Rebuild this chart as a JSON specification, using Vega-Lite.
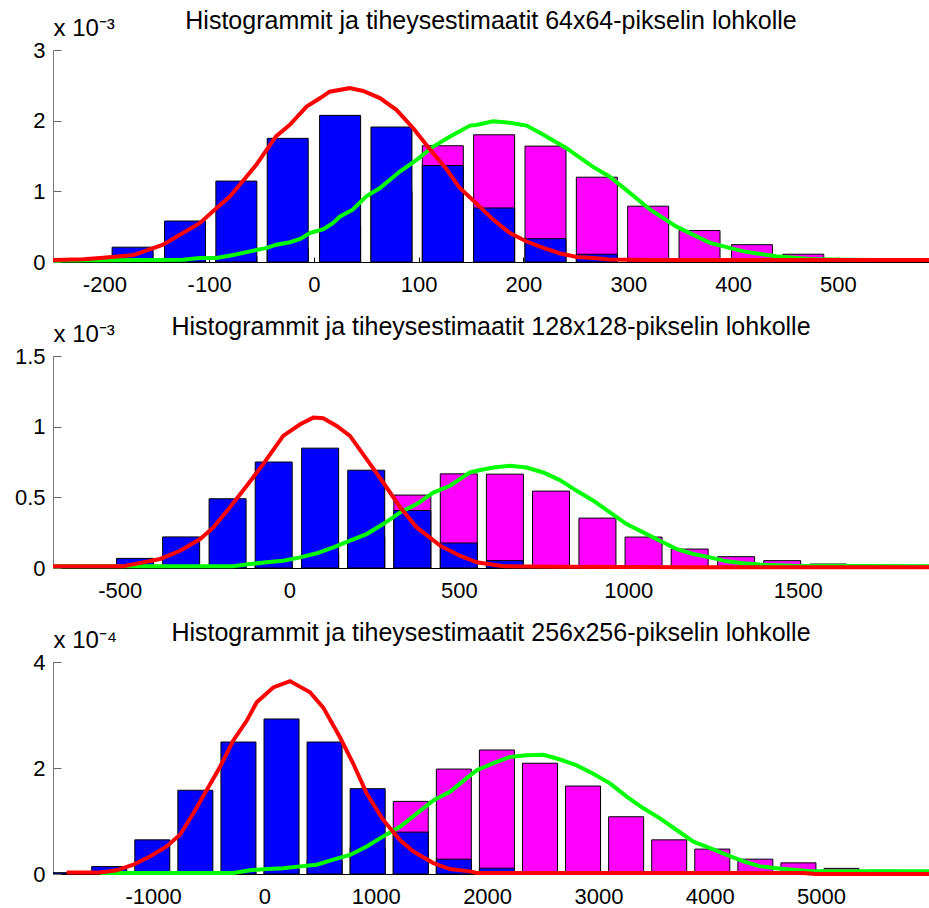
{
  "$schema": "https://vega.github.io/schema/vega-lite/v6.json",
  "background": "white",
  "autosize": {"type": "pad"},
  "padding": {"left": 14, "top": 9, "right": 0, "bottom": 0},
  "config": {
    "view": {"stroke": null},
    "font": "Liberation Sans",
    "title": {"font": "Liberation Sans", "fontSize": 25, "fontWeight": "normal", "color": "#000", "anchor": "middle", "frame": "group", "baseline": "alphabetic", "offset": -18},
    "axis": {"grid": false, "labelFont": "Liberation Sans", "labelFontSize": 22, "labelColor": "#000", "labelExpr": "toString(datum.value)", "labelOverlap": false, "labelFlush": false},
    "axisX": {"tickSize": -5, "labelPadding": 17, "domainColor": "#000", "tickColor": "#000", "domainWidth": 1, "tickWidth": 1},
    "axisY": {"tickSize": -8, "labelPadding": 16, "domainColor": "#777", "tickColor": "#666", "titleAngle": 0, "titleAlign": "left", "titleBaseline": "alphabetic", "titleX": 0, "titleY": -15, "titleFont": "Liberation Sans", "titleFontSize": 24, "titleFontWeight": "normal", "titleColor": "#000"}
  },
  "datasets": {
    "palkit64": [
      {"x": -222, "y": 0.02, "sarja": "sininen"}, {"x": -173, "y": 0.21, "sarja": "sininen"}, {"x": -123, "y": 0.58, "sarja": "sininen"}, {"x": -74, "y": 1.145, "sarja": "sininen"}, {"x": -25, "y": 1.75, "sarja": "sininen"}, {"x": 25, "y": 2.075, "sarja": "sininen"}, {"x": 74, "y": 1.91, "sarja": "sininen"}, {"x": 123, "y": 1.365, "sarja": "sininen"}, {"x": 172, "y": 0.765, "sarja": "sininen"}, {"x": 221, "y": 0.33, "sarja": "sininen"}, {"x": 270, "y": 0.11, "sarja": "sininen"}, {"x": 319, "y": 0.03, "sarja": "sininen"}, {"x": 368, "y": 0.01, "sarja": "sininen"},
      {"x": -173, "y": 0.01, "sarja": "magenta"}, {"x": -123, "y": 0.02, "sarja": "magenta"}, {"x": -74, "y": 0.08, "sarja": "magenta"}, {"x": -25, "y": 0.2, "sarja": "magenta"}, {"x": 25, "y": 0.5, "sarja": "magenta"}, {"x": 74, "y": 1.0, "sarja": "magenta"}, {"x": 123, "y": 1.645, "sarja": "magenta"}, {"x": 172, "y": 1.8, "sarja": "magenta"}, {"x": 221, "y": 1.64, "sarja": "magenta"}, {"x": 270, "y": 1.2, "sarja": "magenta"}, {"x": 319, "y": 0.79, "sarja": "magenta"}, {"x": 368, "y": 0.445, "sarja": "magenta"}, {"x": 418, "y": 0.245, "sarja": "magenta"}, {"x": 467, "y": 0.11, "sarja": "magenta"}, {"x": 516, "y": 0.02, "sarja": "magenta"}, {"x": 565, "y": 0.01, "sarja": "magenta"}
    ],
    "kayrat64": [
      {"x": -249, "y": 0.03, "sarja": "punainen"}, {"x": -220, "y": 0.04, "sarja": "punainen"}, {"x": -201, "y": 0.06, "sarja": "punainen"}, {"x": -185, "y": 0.08, "sarja": "punainen"}, {"x": -172, "y": 0.1, "sarja": "punainen"}, {"x": -160, "y": 0.16, "sarja": "punainen"}, {"x": -144, "y": 0.245, "sarja": "punainen"}, {"x": -125, "y": 0.41, "sarja": "punainen"}, {"x": -109, "y": 0.55, "sarja": "punainen"}, {"x": -96, "y": 0.72, "sarja": "punainen"}, {"x": -80, "y": 0.93, "sarja": "punainen"}, {"x": -67, "y": 1.16, "sarja": "punainen"}, {"x": -55, "y": 1.375, "sarja": "punainen"}, {"x": -45, "y": 1.59, "sarja": "punainen"}, {"x": -36, "y": 1.78, "sarja": "punainen"}, {"x": -23, "y": 1.94, "sarja": "punainen"}, {"x": -7, "y": 2.2, "sarja": "punainen"}, {"x": 6, "y": 2.32, "sarja": "punainen"}, {"x": 15, "y": 2.41, "sarja": "punainen"}, {"x": 34, "y": 2.46, "sarja": "punainen"}, {"x": 47, "y": 2.42, "sarja": "punainen"}, {"x": 63, "y": 2.32, "sarja": "punainen"}, {"x": 79, "y": 2.15, "sarja": "punainen"}, {"x": 95, "y": 1.89, "sarja": "punainen"}, {"x": 111, "y": 1.59, "sarja": "punainen"}, {"x": 127, "y": 1.305, "sarja": "punainen"}, {"x": 139, "y": 1.05, "sarja": "punainen"}, {"x": 155, "y": 0.83, "sarja": "punainen"}, {"x": 171, "y": 0.6, "sarja": "punainen"}, {"x": 187, "y": 0.41, "sarja": "punainen"}, {"x": 203, "y": 0.29, "sarja": "punainen"}, {"x": 219, "y": 0.2, "sarja": "punainen"}, {"x": 235, "y": 0.12, "sarja": "punainen"}, {"x": 251, "y": 0.07, "sarja": "punainen"}, {"x": 267, "y": 0.055, "sarja": "punainen"}, {"x": 282, "y": 0.035, "sarja": "punainen"}, {"x": 320, "y": 0.03, "sarja": "punainen"}, {"x": 400, "y": 0.03, "sarja": "punainen"}, {"x": 500, "y": 0.03, "sarja": "punainen"}, {"x": 587, "y": 0.03, "sarja": "punainen"},
      {"x": -249, "y": 0.02, "sarja": "vihreä"}, {"x": -204, "y": 0.024, "sarja": "vihreä"}, {"x": -157, "y": 0.028, "sarja": "vihreä"}, {"x": -125, "y": 0.033, "sarja": "vihreä"}, {"x": -109, "y": 0.057, "sarja": "vihreä"}, {"x": -93, "y": 0.057, "sarja": "vihreä"}, {"x": -77, "y": 0.1, "sarja": "vihreä"}, {"x": -61, "y": 0.15, "sarja": "vihreä"}, {"x": -45, "y": 0.2, "sarja": "vihreä"}, {"x": -36, "y": 0.245, "sarja": "vihreä"}, {"x": -23, "y": 0.28, "sarja": "vihreä"}, {"x": -13, "y": 0.325, "sarja": "vihreä"}, {"x": -4, "y": 0.41, "sarja": "vihreä"}, {"x": 9, "y": 0.466, "sarja": "vihreä"}, {"x": 18, "y": 0.55, "sarja": "vihreä"}, {"x": 25, "y": 0.645, "sarja": "vihreä"}, {"x": 37, "y": 0.74, "sarja": "vihreä"}, {"x": 50, "y": 0.93, "sarja": "vihreä"}, {"x": 63, "y": 1.046, "sarja": "vihreä"}, {"x": 82, "y": 1.28, "sarja": "vihreä"}, {"x": 98, "y": 1.446, "sarja": "vihreä"}, {"x": 114, "y": 1.634, "sarja": "vihreä"}, {"x": 130, "y": 1.776, "sarja": "vihreä"}, {"x": 149, "y": 1.93, "sarja": "vihreä"}, {"x": 155, "y": 1.94, "sarja": "vihreä"}, {"x": 171, "y": 1.99, "sarja": "vihreä"}, {"x": 187, "y": 1.97, "sarja": "vihreä"}, {"x": 203, "y": 1.93, "sarja": "vihreä"}, {"x": 219, "y": 1.8, "sarja": "vihreä"}, {"x": 241, "y": 1.61, "sarja": "vihreä"}, {"x": 266, "y": 1.35, "sarja": "vihreä"}, {"x": 282, "y": 1.21, "sarja": "vihreä"}, {"x": 298, "y": 1.02, "sarja": "vihreä"}, {"x": 321, "y": 0.74, "sarja": "vihreä"}, {"x": 346, "y": 0.5, "sarja": "vihreä"}, {"x": 378, "y": 0.27, "sarja": "vihreä"}, {"x": 410, "y": 0.15, "sarja": "vihreä"}, {"x": 441, "y": 0.08, "sarja": "vihreä"}, {"x": 473, "y": 0.042, "sarja": "vihreä"}, {"x": 505, "y": 0.033, "sarja": "vihreä"}, {"x": 540, "y": 0.03, "sarja": "vihreä"}, {"x": 587, "y": 0.03, "sarja": "vihreä"}
    ],
    "palkit128": [
      {"x": -455, "y": 0.068, "sarja": "sininen"}, {"x": -319, "y": 0.22, "sarja": "sininen"}, {"x": -182, "y": 0.49, "sarja": "sininen"}, {"x": -46, "y": 0.75, "sarja": "sininen"}, {"x": 91, "y": 0.848, "sarja": "sininen"}, {"x": 227, "y": 0.692, "sarja": "sininen"}, {"x": 363, "y": 0.407, "sarja": "sininen"}, {"x": 500, "y": 0.177, "sarja": "sininen"}, {"x": 636, "y": 0.052, "sarja": "sininen"}, {"x": 772, "y": 0.01, "sarja": "sininen"},
      {"x": -319, "y": 0.003, "sarja": "magenta"}, {"x": -182, "y": 0.01, "sarja": "magenta"}, {"x": -46, "y": 0.04, "sarja": "magenta"}, {"x": 91, "y": 0.1, "sarja": "magenta"}, {"x": 227, "y": 0.22, "sarja": "magenta"}, {"x": 363, "y": 0.516, "sarja": "magenta"}, {"x": 500, "y": 0.666, "sarja": "magenta"}, {"x": 636, "y": 0.664, "sarja": "magenta"}, {"x": 772, "y": 0.544, "sarja": "magenta"}, {"x": 909, "y": 0.353, "sarja": "magenta"}, {"x": 1045, "y": 0.219, "sarja": "magenta"}, {"x": 1181, "y": 0.134, "sarja": "magenta"}, {"x": 1318, "y": 0.08, "sarja": "magenta"}, {"x": 1454, "y": 0.052, "sarja": "magenta"}, {"x": 1590, "y": 0.028, "sarja": "magenta"}, {"x": 1727, "y": 0.01, "sarja": "magenta"}
    ],
    "kayrat128": [
      {"x": -697, "y": 0.012, "sarja": "punainen"}, {"x": -490, "y": 0.012, "sarja": "punainen"}, {"x": -431, "y": 0.04, "sarja": "punainen"}, {"x": -381, "y": 0.064, "sarja": "punainen"}, {"x": -322, "y": 0.122, "sarja": "punainen"}, {"x": -263, "y": 0.205, "sarja": "punainen"}, {"x": -224, "y": 0.287, "sarja": "punainen"}, {"x": -175, "y": 0.43, "sarja": "punainen"}, {"x": -126, "y": 0.58, "sarja": "punainen"}, {"x": -77, "y": 0.735, "sarja": "punainen"}, {"x": -18, "y": 0.935, "sarja": "punainen"}, {"x": 32, "y": 1.017, "sarja": "punainen"}, {"x": 71, "y": 1.064, "sarja": "punainen"}, {"x": 100, "y": 1.06, "sarja": "punainen"}, {"x": 140, "y": 1.005, "sarja": "punainen"}, {"x": 179, "y": 0.935, "sarja": "punainen"}, {"x": 228, "y": 0.77, "sarja": "punainen"}, {"x": 277, "y": 0.605, "sarja": "punainen"}, {"x": 327, "y": 0.43, "sarja": "punainen"}, {"x": 376, "y": 0.287, "sarja": "punainen"}, {"x": 445, "y": 0.158, "sarja": "punainen"}, {"x": 503, "y": 0.087, "sarja": "punainen"}, {"x": 553, "y": 0.04, "sarja": "punainen"}, {"x": 631, "y": 0.012, "sarja": "punainen"}, {"x": 800, "y": 0.008, "sarja": "punainen"}, {"x": 1200, "y": 0.005, "sarja": "punainen"}, {"x": 1887, "y": 0.005, "sarja": "punainen"},
      {"x": -697, "y": 0.012, "sarja": "vihreä"}, {"x": -165, "y": 0.012, "sarja": "vihreä"}, {"x": -116, "y": 0.028, "sarja": "vihreä"}, {"x": -67, "y": 0.04, "sarja": "vihreä"}, {"x": -18, "y": 0.052, "sarja": "vihreä"}, {"x": 32, "y": 0.075, "sarja": "vihreä"}, {"x": 81, "y": 0.104, "sarja": "vihreä"}, {"x": 130, "y": 0.146, "sarja": "vihreä"}, {"x": 179, "y": 0.193, "sarja": "vihreä"}, {"x": 228, "y": 0.24, "sarja": "vihreä"}, {"x": 277, "y": 0.311, "sarja": "vihreä"}, {"x": 327, "y": 0.393, "sarja": "vihreä"}, {"x": 376, "y": 0.452, "sarja": "vihreä"}, {"x": 425, "y": 0.534, "sarja": "vihreä"}, {"x": 474, "y": 0.582, "sarja": "vihreä"}, {"x": 533, "y": 0.676, "sarja": "vihreä"}, {"x": 553, "y": 0.688, "sarja": "vihreä"}, {"x": 602, "y": 0.711, "sarja": "vihreä"}, {"x": 651, "y": 0.723, "sarja": "vihreä"}, {"x": 700, "y": 0.711, "sarja": "vihreä"}, {"x": 749, "y": 0.676, "sarja": "vihreä"}, {"x": 798, "y": 0.622, "sarja": "vihreä"}, {"x": 848, "y": 0.546, "sarja": "vihreä"}, {"x": 897, "y": 0.476, "sarja": "vihreä"}, {"x": 946, "y": 0.393, "sarja": "vihreä"}, {"x": 995, "y": 0.311, "sarja": "vihreä"}, {"x": 1044, "y": 0.252, "sarja": "vihreä"}, {"x": 1093, "y": 0.193, "sarja": "vihreä"}, {"x": 1143, "y": 0.134, "sarja": "vihreä"}, {"x": 1192, "y": 0.099, "sarja": "vihreä"}, {"x": 1241, "y": 0.075, "sarja": "vihreä"}, {"x": 1290, "y": 0.047, "sarja": "vihreä"}, {"x": 1339, "y": 0.033, "sarja": "vihreä"}, {"x": 1388, "y": 0.024, "sarja": "vihreä"}, {"x": 1487, "y": 0.016, "sarja": "vihreä"}, {"x": 1887, "y": 0.012, "sarja": "vihreä"}
    ],
    "palkit256": [
      {"x": -1782, "y": 0.025, "sarja": "sininen"}, {"x": -1395, "y": 0.14, "sarja": "sininen"}, {"x": -1008, "y": 0.644, "sarja": "sininen"}, {"x": -621, "y": 1.58, "sarja": "sininen"}, {"x": -234, "y": 2.49, "sarja": "sininen"}, {"x": 153, "y": 2.925, "sarja": "sininen"}, {"x": 540, "y": 2.49, "sarja": "sininen"}, {"x": 927, "y": 1.61, "sarja": "sininen"}, {"x": 1314, "y": 0.79, "sarja": "sininen"}, {"x": 1701, "y": 0.28, "sarja": "sininen"}, {"x": 2088, "y": 0.11, "sarja": "sininen"}, {"x": 2475, "y": 0.02, "sarja": "sininen"},
      {"x": -1008, "y": 0.003, "sarja": "magenta"}, {"x": -621, "y": 0.01, "sarja": "magenta"}, {"x": -234, "y": 0.03, "sarja": "magenta"}, {"x": 153, "y": 0.1, "sarja": "magenta"}, {"x": 540, "y": 0.25, "sarja": "magenta"}, {"x": 927, "y": 0.5, "sarja": "magenta"}, {"x": 1314, "y": 1.37, "sarja": "magenta"}, {"x": 1701, "y": 1.98, "sarja": "magenta"}, {"x": 2088, "y": 2.34, "sarja": "magenta"}, {"x": 2475, "y": 2.09, "sarja": "magenta"}, {"x": 2862, "y": 1.66, "sarja": "magenta"}, {"x": 3249, "y": 1.08, "sarja": "magenta"}, {"x": 3636, "y": 0.644, "sarja": "magenta"}, {"x": 4023, "y": 0.47, "sarja": "magenta"}, {"x": 4410, "y": 0.28, "sarja": "magenta"}, {"x": 4797, "y": 0.21, "sarja": "magenta"}, {"x": 5184, "y": 0.106, "sarja": "magenta"}, {"x": 5571, "y": 0.07, "sarja": "magenta"}
    ],
    "kayrat256": [
      {"x": -1777, "y": 0.03, "sarja": "punainen"}, {"x": -1478, "y": 0.03, "sarja": "punainen"}, {"x": -1328, "y": 0.07, "sarja": "punainen"}, {"x": -1179, "y": 0.175, "sarja": "punainen"}, {"x": -1029, "y": 0.33, "sarja": "punainen"}, {"x": -879, "y": 0.52, "sarja": "punainen"}, {"x": -759, "y": 0.74, "sarja": "punainen"}, {"x": -640, "y": 1.14, "sarja": "punainen"}, {"x": -520, "y": 1.58, "sarja": "punainen"}, {"x": -400, "y": 2.02, "sarja": "punainen"}, {"x": -280, "y": 2.52, "sarja": "punainen"}, {"x": -160, "y": 2.89, "sarja": "punainen"}, {"x": -70, "y": 3.24, "sarja": "punainen"}, {"x": 79, "y": 3.52, "sarja": "punainen"}, {"x": 229, "y": 3.64, "sarja": "punainen"}, {"x": 409, "y": 3.43, "sarja": "punainen"}, {"x": 528, "y": 3.14, "sarja": "punainen"}, {"x": 678, "y": 2.58, "sarja": "punainen"}, {"x": 798, "y": 2.08, "sarja": "punainen"}, {"x": 918, "y": 1.52, "sarja": "punainen"}, {"x": 1067, "y": 1.02, "sarja": "punainen"}, {"x": 1217, "y": 0.64, "sarja": "punainen"}, {"x": 1337, "y": 0.425, "sarja": "punainen"}, {"x": 1517, "y": 0.206, "sarja": "punainen"}, {"x": 1667, "y": 0.094, "sarja": "punainen"}, {"x": 1846, "y": 0.05, "sarja": "punainen"}, {"x": 1907, "y": 0.02, "sarja": "punainen"}, {"x": 4841, "y": 0.02, "sarja": "punainen"}, {"x": 4950, "y": 0.0, "sarja": "punainen"}, {"x": 5970, "y": 0.0, "sarja": "punainen"},
      {"x": -1478, "y": 0.019, "sarja": "vihreä"}, {"x": -280, "y": 0.019, "sarja": "vihreä"}, {"x": -130, "y": 0.069, "sarja": "vihreä"}, {"x": 20, "y": 0.094, "sarja": "vihreä"}, {"x": 169, "y": 0.11, "sarja": "vihreä"}, {"x": 319, "y": 0.144, "sarja": "vihreä"}, {"x": 469, "y": 0.175, "sarja": "vihreä"}, {"x": 619, "y": 0.27, "sarja": "vihreä"}, {"x": 768, "y": 0.36, "sarja": "vihreä"}, {"x": 918, "y": 0.52, "sarja": "vihreä"}, {"x": 1067, "y": 0.71, "sarja": "vihreä"}, {"x": 1217, "y": 0.89, "sarja": "vihreä"}, {"x": 1367, "y": 1.14, "sarja": "vihreä"}, {"x": 1517, "y": 1.39, "sarja": "vihreä"}, {"x": 1667, "y": 1.55, "sarja": "vihreä"}, {"x": 1800, "y": 1.78, "sarja": "vihreä"}, {"x": 1907, "y": 1.96, "sarja": "vihreä"}, {"x": 2056, "y": 2.09, "sarja": "vihreä"}, {"x": 2206, "y": 2.21, "sarja": "vihreä"}, {"x": 2356, "y": 2.24, "sarja": "vihreä"}, {"x": 2505, "y": 2.25, "sarja": "vihreä"}, {"x": 2655, "y": 2.16, "sarja": "vihreä"}, {"x": 2805, "y": 2.05, "sarja": "vihreä"}, {"x": 2954, "y": 1.89, "sarja": "vihreä"}, {"x": 3104, "y": 1.71, "sarja": "vihreä"}, {"x": 3254, "y": 1.46, "sarja": "vihreä"}, {"x": 3404, "y": 1.24, "sarja": "vihreä"}, {"x": 3553, "y": 1.05, "sarja": "vihreä"}, {"x": 3703, "y": 0.83, "sarja": "vihreä"}, {"x": 3853, "y": 0.61, "sarja": "vihreä"}, {"x": 4003, "y": 0.49, "sarja": "vihreä"}, {"x": 4153, "y": 0.36, "sarja": "vihreä"}, {"x": 4302, "y": 0.24, "sarja": "vihreä"}, {"x": 4452, "y": 0.144, "sarja": "vihreä"}, {"x": 4602, "y": 0.11, "sarja": "vihreä"}, {"x": 4752, "y": 0.08, "sarja": "vihreä"}, {"x": 4901, "y": 0.05, "sarja": "vihreä"}, {"x": 5970, "y": 0.05, "sarja": "vihreä"}
    ]
  },
  "bounds": "flush",
  "spacing": 94,
  "vconcat": [
    {
      "width": 876, "height": 212,
      "title": {"text": "Histogrammit ja tiheysestimaatit 64x64-pikselin lohkolle"},
      "encoding": {
        "x": {"field": "x", "type": "quantitative", "title": null, "scale": {"domain": [-249, 587], "nice": false, "zero": false, "padding": 0}, "axis": {"values": [-200, -100, 0, 100, 200, 300, 400, 500]}},
        "y": {"field": "y", "type": "quantitative", "title": "x 10⁻³", "scale": {"domain": [0, 3], "nice": false, "zero": true, "padding": 0}, "axis": {"values": [0, 1, 2, 3]}}
      },
      "layer": [
        {"data": {"name": "palkit64"}, "transform": [{"filter": "datum.sarja == 'magenta'"}], "mark": {"type": "bar", "fill": "#FF00FF", "stroke": "#000", "strokeWidth": 1, "size": 41, "clip": true}},
        {"data": {"name": "palkit64"}, "transform": [{"filter": "datum.sarja == 'sininen'"}], "mark": {"type": "bar", "fill": "#0000FF", "stroke": "#000", "strokeWidth": 1, "size": 41, "clip": true}},
        {"data": {"name": "kayrat64"}, "transform": [{"filter": "datum.sarja == 'vihreä'"}], "mark": {"type": "line", "stroke": "#00FF00", "strokeWidth": 4}},
        {"data": {"name": "kayrat64"}, "transform": [{"filter": "datum.sarja == 'punainen'"}], "mark": {"type": "line", "stroke": "#FF0000", "strokeWidth": 4}}
      ]
    },
    {
      "width": 876, "height": 212,
      "title": {"text": "Histogrammit ja tiheysestimaatit 128x128-pikselin lohkolle"},
      "encoding": {
        "x": {"field": "x", "type": "quantitative", "title": null, "scale": {"domain": [-697, 1887], "nice": false, "zero": false, "padding": 0}, "axis": {"values": [-500, 0, 500, 1000, 1500]}},
        "y": {"field": "y", "type": "quantitative", "title": "x 10⁻³", "scale": {"domain": [0, 1.5], "nice": false, "zero": true, "padding": 0}, "axis": {"values": [0, 0.5, 1, 1.5]}}
      },
      "layer": [
        {"data": {"name": "palkit128"}, "transform": [{"filter": "datum.sarja == 'magenta'"}], "mark": {"type": "bar", "fill": "#FF00FF", "stroke": "#000", "strokeWidth": 1, "size": 37, "clip": true}},
        {"data": {"name": "palkit128"}, "transform": [{"filter": "datum.sarja == 'sininen'"}], "mark": {"type": "bar", "fill": "#0000FF", "stroke": "#000", "strokeWidth": 1, "size": 37, "clip": true}},
        {"data": {"name": "kayrat128"}, "transform": [{"filter": "datum.sarja == 'vihreä'"}], "mark": {"type": "line", "stroke": "#00FF00", "strokeWidth": 4}},
        {"data": {"name": "kayrat128"}, "transform": [{"filter": "datum.sarja == 'punainen'"}], "mark": {"type": "line", "stroke": "#FF0000", "strokeWidth": 4}}
      ]
    },
    {
      "width": 876, "height": 212,
      "title": {"text": "Histogrammit ja tiheysestimaatit 256x256-pikselin lohkolle"},
      "encoding": {
        "x": {"field": "x", "type": "quantitative", "title": null, "scale": {"domain": [-1900, 5970], "nice": false, "zero": false, "padding": 0}, "axis": {"values": [-1000, 0, 1000, 2000, 3000, 4000, 5000]}},
        "y": {"field": "y", "type": "quantitative", "title": "x 10⁻⁴", "scale": {"domain": [0, 4], "nice": false, "zero": true, "padding": 0}, "axis": {"values": [0, 2, 4]}}
      },
      "layer": [
        {"data": {"name": "palkit256"}, "transform": [{"filter": "datum.sarja == 'magenta'"}], "mark": {"type": "bar", "fill": "#FF00FF", "stroke": "#000", "strokeWidth": 1, "size": 35, "clip": true}},
        {"data": {"name": "palkit256"}, "transform": [{"filter": "datum.sarja == 'sininen'"}], "mark": {"type": "bar", "fill": "#0000FF", "stroke": "#000", "strokeWidth": 1, "size": 35, "clip": true}},
        {"data": {"name": "kayrat256"}, "transform": [{"filter": "datum.sarja == 'vihreä'"}], "mark": {"type": "line", "stroke": "#00FF00", "strokeWidth": 4}},
        {"data": {"name": "kayrat256"}, "transform": [{"filter": "datum.sarja == 'punainen'"}], "mark": {"type": "line", "stroke": "#FF0000", "strokeWidth": 4}}
      ]
    }
  ]
}
